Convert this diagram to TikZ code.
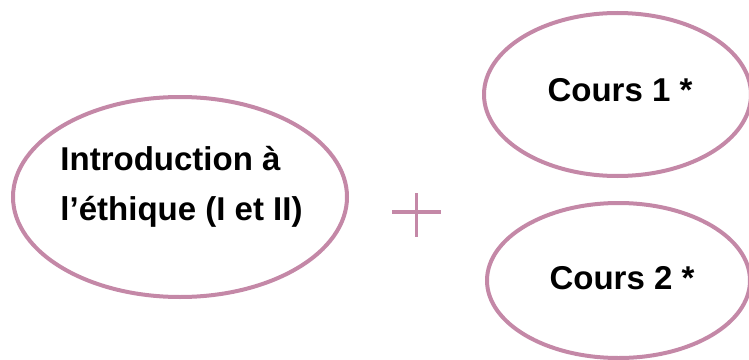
\documentclass[tikz,border=0pt]{standalone}
\usepackage{fontspec}
\setmainfont{Liberation Sans}
\usepackage{tikz}
\usetikzlibrary{arrows,calc,positioning,shapes.geometric}
\definecolor{mauve}{RGB}{196,136,167}
\tikzset{
    bulle/.style={
           ellipse,
           draw=mauve, line width=3pt,
           inner sep=0pt},
    texte/.style={
           inner sep=0pt,
           font=\fontsize{24.75}{37.5}\selectfont\bfseries},
    signe/.style={
           draw=mauve,
           line width=2.4pt}
}
\begin{document}
\begin{tikzpicture}[x=0.75pt, y=-0.75pt]
        \clip (0,0) rectangle (749,360);
        \useasboundingbox (0,0) rectangle (749,360);
        \node[bulle, minimum width=250.5pt, minimum height=150pt] (intro) at (180,197) {};
        \node[bulle, minimum width=200.25pt, minimum height=122.25pt] (c1) at (617.5,94.5) {};
        \node[bulle, minimum width=197.25pt, minimum height=116.25pt] (c2) at (618.5,280.5) {};

        \node[texte, align=left] (introtxt) at (181.5,186.5) {Introduction à\\l’éthique (I et II)};
        \node[texte] (c1txt) at (620,90) {Cours 1 *};
        \node[texte] (c2txt) at (622,278) {Cours 2 *};

        \coordinate (plus) at (416.5,212);
        \draw[signe] ($(plus)+(-24.5,0)$) -- ($(plus)+(24.5,0)$);
        \draw[signe] ($(plus)+(0,-19)$) -- ($(plus)+(0,25)$);
    \end{tikzpicture}
\end{document}
